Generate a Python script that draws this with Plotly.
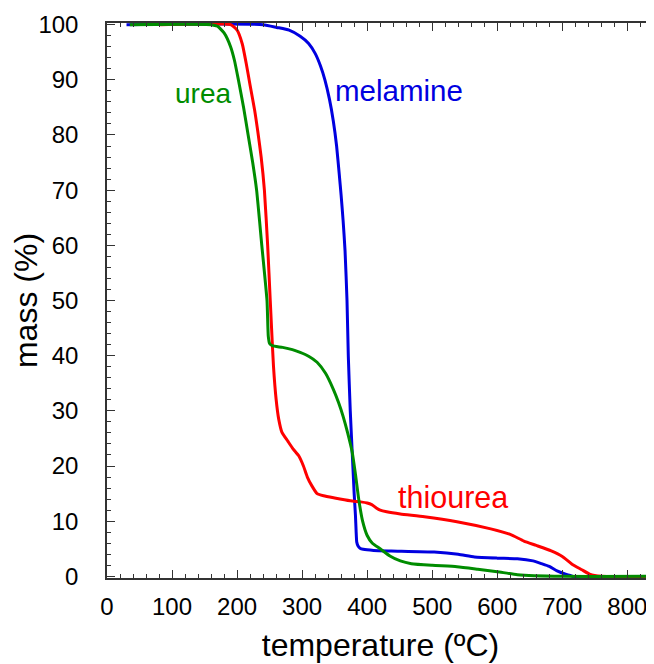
import plotly.graph_objects as go

# thermogravimetric curves
melamine_t = [30, 240, 261, 280, 297, 310, 320, 328, 335, 342, 348, 353, 357, 360, 363, 366,
              369, 371, 374, 378, 380, 382, 383, 384, 386, 389, 394, 410, 437, 503,
              540, 565, 600, 631, 655, 668, 680, 692, 705, 714, 723, 834]
melamine_m = [100, 100, 99.5, 99, 97.9, 96.6, 94.8, 92.6, 90, 86.5, 82.5, 78, 73, 69, 64.5, 59,
              50, 40, 30, 20, 15, 11, 8.2, 6.2, 5.5, 5.1, 4.9, 4.7, 4.6, 4.4,
              4.0, 3.5, 3.3, 3.2, 2.8, 2.3, 1.8, 1.0, 0.4, 0.1, -0.4, -0.4]

thiourea_t = [82, 190, 200, 208, 214, 220, 227, 232, 237, 242, 247, 251, 253, 256, 260, 264, 269,
              278, 286, 295, 302, 308, 315, 323, 333, 350, 374, 390, 400, 407, 414,
              420, 430, 451, 488, 538, 590, 620, 641, 660, 683, 700, 714, 730, 742, 760, 841]
thiourea_m = [100, 100, 99, 96.5, 93, 89, 84.5, 80.5, 76, 70, 60, 50, 45, 38, 32.1, 28.5, 26.1,
              24.5, 23.1, 21.8, 20.0, 18.0, 16.4, 15.0, 14.6, 14.2, 13.7, 13.5, 13.3,
              13.0, 12.4, 12.0, 11.7, 11.3, 10.8, 9.9, 8.6, 7.6, 6.4, 5.6, 4.6, 3.6,
              2.3, 1.2, 0.4, 0, 0]

urea_t = [35, 160, 170, 180, 190, 196, 202, 210, 217, 224, 230, 238, 246, 248, 250, 254,
          270, 285, 297, 310, 323, 336, 348, 356, 363, 370, 377, 382, 387, 393, 400,
          408, 420, 435, 451, 468, 500, 538, 570, 600, 631, 700, 841]
urea_m = [100, 100, 99.7, 98.5, 96, 93.5, 90, 85, 80, 75, 70, 60, 50, 43.5, 42.2, 41.8,
          41.5, 41.1, 40.6, 39.9, 38.8, 36.8, 33.9, 31.5, 29.0, 26.0, 22.5, 18.5,
          14.0, 10.0, 7.4, 6.0, 5.0, 3.7, 2.8, 2.3, 2.0, 1.75, 1.3, 0.85, 0.3, 0, 0]

# curve labels
label_text = ["urea", "melamine", "thiourea"]
label_x = [148, 449, 532]
label_y = [87.5, 88.1, 14.4]
label_size = [28, 29.5, 30.5]

BLUE = "#0000e0"
RED = "#ff0000"
GREEN = "#008c00"
FONT = "Arial, Liberation Sans, sans-serif"

fig = go.Figure()
fig.add_trace(go.Scatter(x=melamine_t, y=melamine_m, mode="lines",
                         line=dict(color=BLUE, width=3, shape="spline", smoothing=0.5)))
fig.add_trace(go.Scatter(x=thiourea_t, y=thiourea_m, mode="lines",
                         line=dict(color=RED, width=3, shape="spline", smoothing=0.5)))
fig.add_trace(go.Scatter(x=urea_t, y=urea_m, mode="lines",
                         line=dict(color=GREEN, width=3, shape="spline", smoothing=0.5)))

for txt, x, y, s, c in zip(label_text, label_x, label_y, label_size, [GREEN, BLUE, RED]):
    fig.add_annotation(x=x, y=y, text=txt, showarrow=False,
                       font=dict(family=FONT, size=s, color=c))

axis_common = dict(
    showline=True, linecolor="#333", linewidth=1.5, mirror="ticks",
    ticks="inside", ticklen=8, tickwidth=1.2, tickcolor="#333",
    showgrid=False, zeroline=False, automargin=False,
    tickfont=dict(family=FONT, size=24, color="black"),
)

fig.update_xaxes(range=[0, 841], dtick=100, tick0=0,
                 minor=dict(ticks="inside", ticklen=4, dtick=20, tickcolor="#333"),
                 ticklabelstandoff=6,
                 title=dict(text="temperature (ºC)", standoff=15,
                            font=dict(family=FONT, size=32, color="black")),
                 **axis_common)
fig.update_yaxes(range=[-0.3, 100.3], dtick=10, tick0=0,
                 minor=dict(ticks="inside", ticklen=4, dtick=2, tickcolor="#333"),
                 ticklabelstandoff=22,
                 title=dict(text="mass (%)", standoff=4,
                            font=dict(family=FONT, size=32, color="black")),
                 **axis_common)

# page body has an 8px margin, so the figure is shrunk by that much
fig.update_layout(
    width=646, height=656,
    margin=dict(l=99, r=0, t=15, b=86),
    plot_bgcolor="white", paper_bgcolor="white",
    showlegend=False,
)

fig.write_html("out.html")
